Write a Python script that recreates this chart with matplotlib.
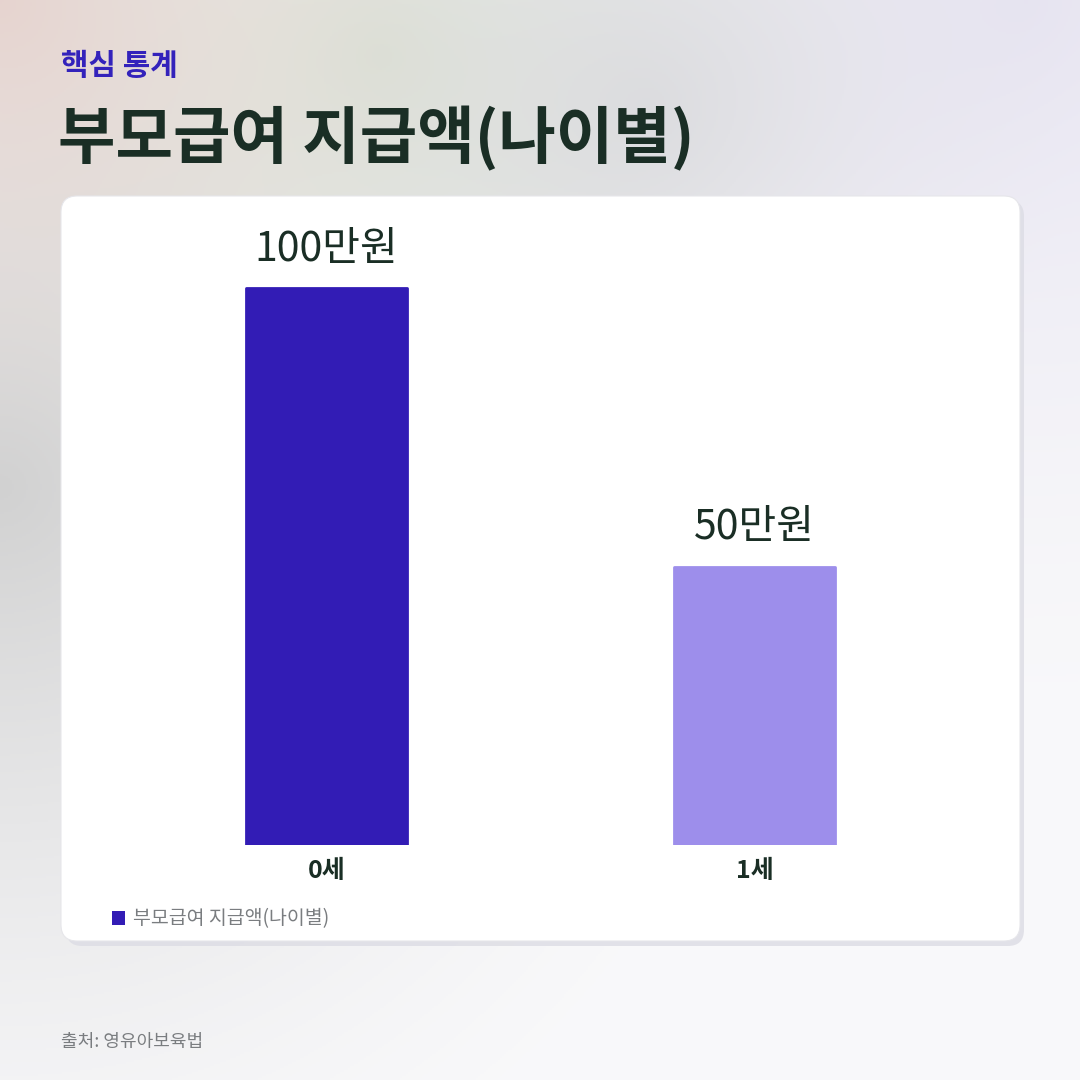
import numpy as np
import matplotlib
matplotlib.use("Agg")
import matplotlib.pyplot as plt
from matplotlib.patches import FancyBboxPatch, Patch

plt.rcParams['font.family'] = ['Noto Sans CJK KR', 'DejaVu Sans']

categories = ['0세', '1세']
values = [100, 50]
value_labels = ['100만원', '50만원']
series_name = '부모급여 지급액(나이별)'
bar_colors = ['#321cb5', '#9d8eeb']
kicker = '핵심 통계'
title = '부모급여 지급액(나이별)'
source = '출처: 영유아보육법'

W = H = 1080
fig = plt.figure(figsize=(10.8, 10.8), dpi=100)

def fx(x): return x / W
def fy(y): return 1 - y / H

# background gradient
bg = fig.add_axes([0, 0, 1, 1], zorder=-10)
bg.set_axis_off()
yy, xx = np.mgrid[0:H:2, 0:W:2] / W
base = np.array([0.975, 0.975, 0.982])
img = np.ones(yy.shape + (3,)) * base
def blob(cx, cy, r, col, s=1.0):
    global img
    d = np.sqrt((xx - cx) ** 2 + (yy - cy) ** 2)
    w = np.clip(1 - d / r, 0, 1) ** 1.5 * s
    img = img * (1 - w[..., None]) + np.array(col) * w[..., None]
blob(0.95, 0.0, 0.7, (0.905, 0.895, 0.945), 1.0)
blob(0.0, 0.45, 0.75, (0.82, 0.82, 0.82), 1.0)
blob(0.35, 0.05, 0.5, (0.86, 0.88, 0.83), 0.9)
blob(0.0, 0.0, 0.45, (0.90, 0.82, 0.80), 0.9)
blob(0.6, 0.1, 0.4, (0.82, 0.82, 0.84), 0.6)
bg.imshow(np.clip(img, 0, 1), extent=[0, 1, 0, 1], aspect='auto', origin='upper')
bg.set_xlim(0, 1); bg.set_ylim(0, 1)

# card shadow and card
shadow = FancyBboxPatch((fx(66), fy(946)), fx(1024 - 66), (946 - 200) / H,
                        boxstyle="round,pad=0,rounding_size=0.015",
                        transform=fig.transFigure, facecolor='#dcdce4', edgecolor='none',
                        alpha=0.8, zorder=1)
fig.patches.append(shadow)
card = FancyBboxPatch((fx(61), fy(941)), fx(1020 - 61), (941 - 196) / H,
                      boxstyle="round,pad=0,rounding_size=0.015",
                      transform=fig.transFigure, facecolor='white', edgecolor='#e6e6ea',
                      linewidth=0.8, zorder=2)
fig.patches.append(card)

# main axes
ax_left, ax_right = 112.5, 968.5
ax_top, ax_bot = 220, 845
ax = fig.add_axes([fx(ax_left), fy(ax_bot), fx(ax_right - ax_left), (ax_bot - ax_top) / H], zorder=5)
ax.patch.set_alpha(0)
ymax = 100 * (ax_bot - ax_top) / (845 - 288)
x = np.arange(len(categories))
bars = ax.bar(x, values, width=161 / 428, color=bar_colors, edgecolor=bar_colors,
              linewidth=2, joinstyle='round', label=series_name)
ax.set_xlim(-0.5, 1.5)
ax.set_ylim(0, ymax)
for xi, v, lab in zip(x, values, value_labels):
    ax.annotate(lab, (xi, v), xytext=(0, 13), textcoords='offset points',
                ha='center', va='bottom', fontsize=29.5, fontweight='medium', color='#1a2e25')
ax.set_xticks(x)
ax.set_xticklabels(categories, fontsize=18, fontweight='semibold', color='#1a2e25')
ax.tick_params(axis='x', length=0, pad=10)
ax.set_yticks([])
for s in ax.spines.values():
    s.set_visible(False)

# legend
leg = fig.legend(handles=[Patch(facecolor=bar_colors[0], edgecolor='none')],
                 labels=[series_name], loc='center left',
                 bbox_to_anchor=(fx(94), fy(919)), frameon=False,
                 fontsize=14, handlelength=0.7, handleheight=0.7, handletextpad=0.4,
                 labelcolor='#7a7d80')
leg.set_zorder(6)

# titles
fig.text(fx(61), fy(66), kicker, fontsize=21.5, fontweight='bold', color='#3322bb',
         va='center', ha='left')
fig.text(fx(58), fy(139), title, fontsize=45, fontweight='bold', color='#1a2e25',
         va='center', ha='left')
fig.text(fx(61), fy(1042), source, fontsize=13, color='#7a7d80', va='center', ha='left')

fig.savefig('out.png', dpi=100)
